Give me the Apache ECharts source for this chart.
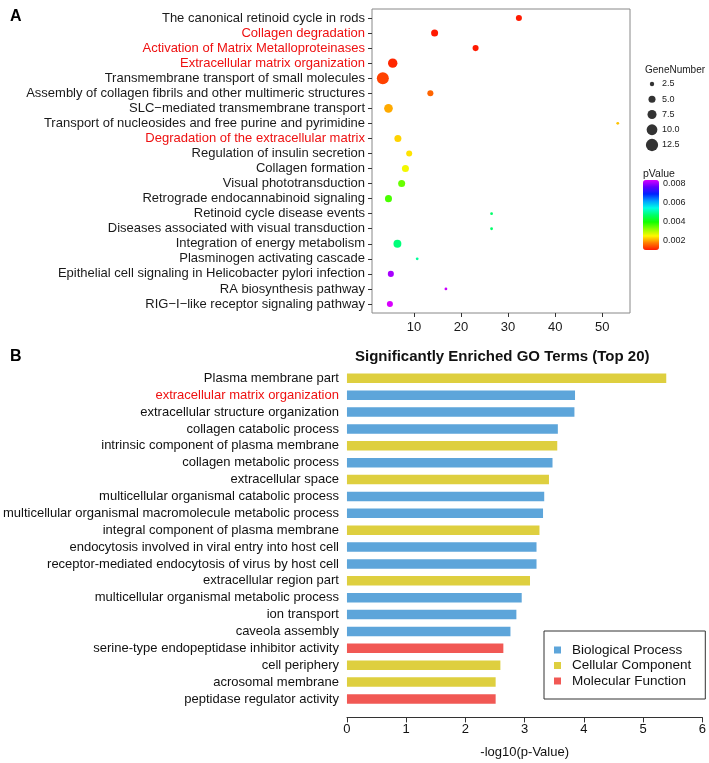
<!DOCTYPE html>
<html>
<head>
<meta charset="utf-8">
<title>Enrichment</title>
<script src="https://cdn.jsdelivr.net/npm/echarts@6.0.0/dist/echarts.min.js"></script>
<style>
  html, body { margin: 0; padding: 0; background: #fff; }
  #chart { width: 709px; height: 763px; }
</style>
</head>
<body>
<div id="chart"></div>
<script>
// panel A - pathway dot plot
var pathways = [
  'The canonical retinoid cycle in rods',
  'Collagen degradation',
  'Activation of Matrix Metalloproteinases',
  'Extracellular matrix organization',
  'Transmembrane transport of small molecules',
  'Assembly of collagen fibrils and other multimeric structures',
  'SLC\u2212mediated transmembrane transport',
  'Transport of nucleosides and free purine and pyrimidine',
  'Degradation of the extracellular matrix',
  'Regulation of insulin secretion',
  'Collagen formation',
  'Visual phototransduction',
  'Retrograde endocannabinoid signaling',
  'Retinoid cycle disease events',
  'Diseases associated with visual transduction',
  'Integration of energy metabolism',
  'Plasminogen activating cascade',
  'Epithelial cell signaling in Helicobacter pylori infection',
  'RA biosynthesis pathway',
  'RIG\u2212I\u2212like receptor signaling pathway'
]
var pathwayX = [32.3, 14.4, 23.1, 5.5, 3.4, 13.5, 4.6, 53.3, 6.6, 9.0, 8.2, 7.4, 4.6, 26.5, 26.5, 6.5, 10.7, 5.1, 16.8, 4.9]
var pathwayP = [0.0008, 0.0008, 0.0008, 0.0009, 0.00111, 0.00138, 0.00185, 0.0020, 0.0021, 0.0022, 0.0024, 0.0033, 0.0035, 0.0046, 0.0046, 0.0047, 0.0049, 0.0081, 0.0083, 0.0084]
var pathwayGenes = [4, 5, 4, 8, 12, 4, 7, 1, 5, 4, 5, 5, 5, 1, 1, 6, 1, 4, 1, 4]
var redPathways = ['Collagen degradation', 'Activation of Matrix Metalloproteinases', 'Extracellular matrix organization', 'Degradation of the extracellular matrix']
var xTicksA = [10, 20, 30, 40, 50]
var sizeLegend = [2.5, 5.0, 7.5, 10.0, 12.5]
var pTicks = [0.002, 0.004, 0.006, 0.008]

// panel B - GO terms
var goTerms = [
  'Plasma membrane part',
  'extracellular matrix organization',
  'extracellular structure organization',
  'collagen catabolic process',
  'intrinsic component of plasma membrane',
  'collagen metabolic process',
  'extracellular space',
  'multicellular organismal catabolic process',
  'multicellular organismal macromolecule metabolic process',
  'integral component of plasma membrane',
  'endocytosis involved in viral entry into host cell',
  'receptor-mediated endocytosis of virus by host cell',
  'extracellular region part',
  'multicellular organismal metabolic process',
  'ion transport',
  'caveola assembly',
  'serine-type endopeptidase inhibitor activity',
  'cell periphery',
  'acrosomal membrane',
  'peptidase regulator activity'
]
var goValues = [5.39, 3.85, 3.84, 3.56, 3.55, 3.47, 3.41, 3.33, 3.31, 3.25, 3.20, 3.20, 3.09, 2.95, 2.86, 2.76, 2.64, 2.59, 2.51, 2.51]
var goClass = ['CC', 'BP', 'BP', 'BP', 'CC', 'BP', 'CC', 'BP', 'BP', 'CC', 'BP', 'BP', 'CC', 'BP', 'BP', 'BP', 'MF', 'CC', 'CC', 'MF']
var goGroups = ['BP', 'CC', 'MF']
var goGroupNames = ['Biological Process', 'Cellular Component', 'Molecular Function']
var goGroupColors = ['#5DA5DA', '#DECF3F', '#F15854']
var redTerms = ['extracellular matrix organization']
var xTicksB = [0, 1, 2, 3, 4, 5, 6]

var font = 'Liberation Sans, Arial, Helvetica, sans-serif'

// area-like size scale, same as the plot legend
function dotSize (n) {
  return Math.max(2.8, 2.0 * (1 + 5 * (Math.sqrt(n) - 1) / (Math.sqrt(12) - 1)))
}

var dotData = pathways.map(function (name, i) {
  return [pathwayX[i], name, pathwayP[i], pathwayGenes[i]]
})

var barSeries = goGroups.map(function (g, k) {
  return {
    name: goGroupNames[k],
    type: 'bar',
    xAxisIndex: 4,
    yAxisIndex: 4,
    stack: 'go',
    barWidth: 9.5,
    itemStyle: { color: goGroupColors[k] },
    data: goValues.map(function (v, i) { return goClass[i] === g ? v : '-' })
  }
})

var myChart = echarts.init(document.getElementById('chart'))
var option = {
  animation: false,
  textStyle: { fontFamily: font },
  title: [
    { text: 'A', left: 5, top: 4, textStyle: { fontSize: 16, fontWeight: 'bold', color: '#000', fontFamily: font } },
    { text: 'B', left: 5, top: 344, textStyle: { fontSize: 16, fontWeight: 'bold', color: '#000', fontFamily: font } },
    { text: 'GeneNumber', left: 645, top: 65, padding: 0, textStyle: { fontSize: 10, fontWeight: 'normal', color: '#1a1a1a', fontFamily: font } },
    { text: 'pValue', left: 643, top: 169, padding: 0, textStyle: { fontSize: 10.5, fontWeight: 'normal', color: '#1a1a1a', fontFamily: font } },
    { text: 'Significantly Enriched GO Terms (Top 20)', left: 355, top: 349, padding: 0, textStyle: { fontSize: 15, fontWeight: 'bold', color: '#111', fontFamily: font } }
  ],
  legend: {
    data: goGroupNames,
    orient: 'vertical',
    left: 544,
    top: 631,
    padding: [12, 14, 11, 10],
    itemGap: 1.5,
    itemWidth: 7,
    itemHeight: 7,
    icon: 'rect',
    borderColor: '#333',
    borderWidth: 1,
    textStyle: { fontSize: 13.5, color: '#111', fontFamily: font, padding: [0, 0, 0, 6] }
  },
  visualMap: {
    type: 'continuous',
    seriesIndex: 0,
    dimension: 2,
    min: 0.0008,
    max: 0.0084,
    left: 643,
    top: 180,
    padding: 0,
    itemWidth: 16,
    itemHeight: 70,
    calculable: false,
    hoverLink: false,
    inRange: {
      color: ['#FF1A00', '#FF7B00', '#FFF700', '#8CFF00', '#11FF00', '#00FF6A', '#00FFE6', '#009DFF', '#0022FF', '#5E00FF', '#D900FF']
    }
  },
  grid: [
    // 0: dot plot data area (rows from first to last category)
    { left: 372, top: 18, width: 258, height: 286 },
    // 1: dot plot frame
    { left: 372, top: 9, width: 258, height: 304, show: true, borderColor: '#888', borderWidth: 1, backgroundColor: 'transparent' },
    // 2: size legend
    { left: 646, top: 84, width: 12, height: 61 },
    // 3: colour bar ticks
    { left: 643, top: 180, width: 16, height: 79 },
    // 4: GO bar chart
    { left: 346, right: 6.3, top: 369.9, bottom: 55.6 }
  ],
  xAxis: [
    {
      gridIndex: 0,
      type: 'value',
      min: 1.1,
      max: 55.9,
      offset: 9,
      splitLine: { show: false },
      axisLine: { show: false },
      axisTick: { show: true, length: 4, customValues: xTicksA, lineStyle: { color: '#333' } },
      axisLabel: { customValues: xTicksA, fontSize: 13, color: '#1a1a1a', margin: 8, fontFamily: font }
    },
    { gridIndex: 1, type: 'value', show: false },
    { gridIndex: 2, type: 'value', min: -1, max: 1, show: false },
    { gridIndex: 3, type: 'value', show: false },
    {
      gridIndex: 4,
      type: 'value',
      min: 0,
      max: 6,
      interval: 1,
      offset: 10,
      splitLine: { show: false },
      axisLine: { show: true, lineStyle: { color: '#333' } },
      axisTick: { show: true, length: 5, customValues: xTicksB, lineStyle: { color: '#333' } },
      axisLabel: { fontSize: 13, color: '#111', margin: 6, fontFamily: font },
      name: '-log10(p-Value)',
      nameLocation: 'middle',
      nameGap: 29,
      nameTextStyle: { fontSize: 13, color: '#111', fontFamily: font }
    }
  ],
  yAxis: [
    {
      gridIndex: 0,
      type: 'category',
      data: pathways,
      inverse: true,
      boundaryGap: false,
      splitLine: { show: false },
      axisLine: { show: false },
      axisTick: { show: true, length: 4, alignWithLabel: true, lineStyle: { color: '#333' } },
      axisLabel: {
        interval: 0,
        fontSize: 13,
        margin: 7,
        fontFamily: font,
        color: function (value) {
          return redPathways.indexOf(value) >= 0 ? '#EE1111' : '#1a1a1a'
        }
      }
    },
    { gridIndex: 1, type: 'value', show: false },
    {
      gridIndex: 2,
      type: 'category',
      data: sizeLegend.map(function (v) { return v.toFixed(1) }),
      inverse: true,
      boundaryGap: false,
      position: 'right',
      axisLine: { show: false },
      axisTick: { show: false },
      splitLine: { show: false },
      axisLabel: { fontSize: 9, color: '#1a1a1a', margin: 4, fontFamily: font }
    },
    {
      gridIndex: 3,
      type: 'value',
      min: 0,
      max: 0.0084,
      position: 'right',
      axisLine: { show: false },
      splitLine: { show: false },
      axisTick: { show: true, inside: true, length: 3, customValues: pTicks, lineStyle: { color: '#fff' } },
      axisLabel: { customValues: pTicks, fontSize: 9, color: '#1a1a1a', margin: 4, fontFamily: font }
    },
    {
      gridIndex: 4,
      type: 'category',
      data: goTerms,
      inverse: true,
      axisLine: { show: false },
      axisTick: { show: false },
      splitLine: { show: false },
      axisLabel: {
        interval: 0,
        fontSize: 13,
        margin: 8,
        fontFamily: font,
        color: function (value) {
          return redTerms.indexOf(value) >= 0 ? '#EE1111' : '#111'
        }
      }
    },
    {
      gridIndex: 3,
      type: 'value',
      min: 0,
      max: 0.0084,
      position: 'left',
      axisLine: { show: false },
      splitLine: { show: false },
      axisLabel: { show: false },
      axisTick: { show: true, inside: true, length: 3, customValues: pTicks, lineStyle: { color: '#fff' } }
    }
  ],
  series: [
    {
      name: 'pathways',
      type: 'scatter',
      xAxisIndex: 0,
      yAxisIndex: 0,
      data: dotData,
      symbolSize: function (d) { return dotSize(d[3]) },
      itemStyle: { opacity: 1 },
      z: 5
    },
    {
      name: 'GeneNumber',
      type: 'scatter',
      xAxisIndex: 2,
      yAxisIndex: 2,
      data: sizeLegend.map(function (v) { return [0, v.toFixed(1), v] }),
      symbolSize: function (d) { return dotSize(d[2]) },
      itemStyle: { color: '#000' }
    }
  ].concat(barSeries)
}
myChart.setOption(option)
</script>
</body>
</html>
